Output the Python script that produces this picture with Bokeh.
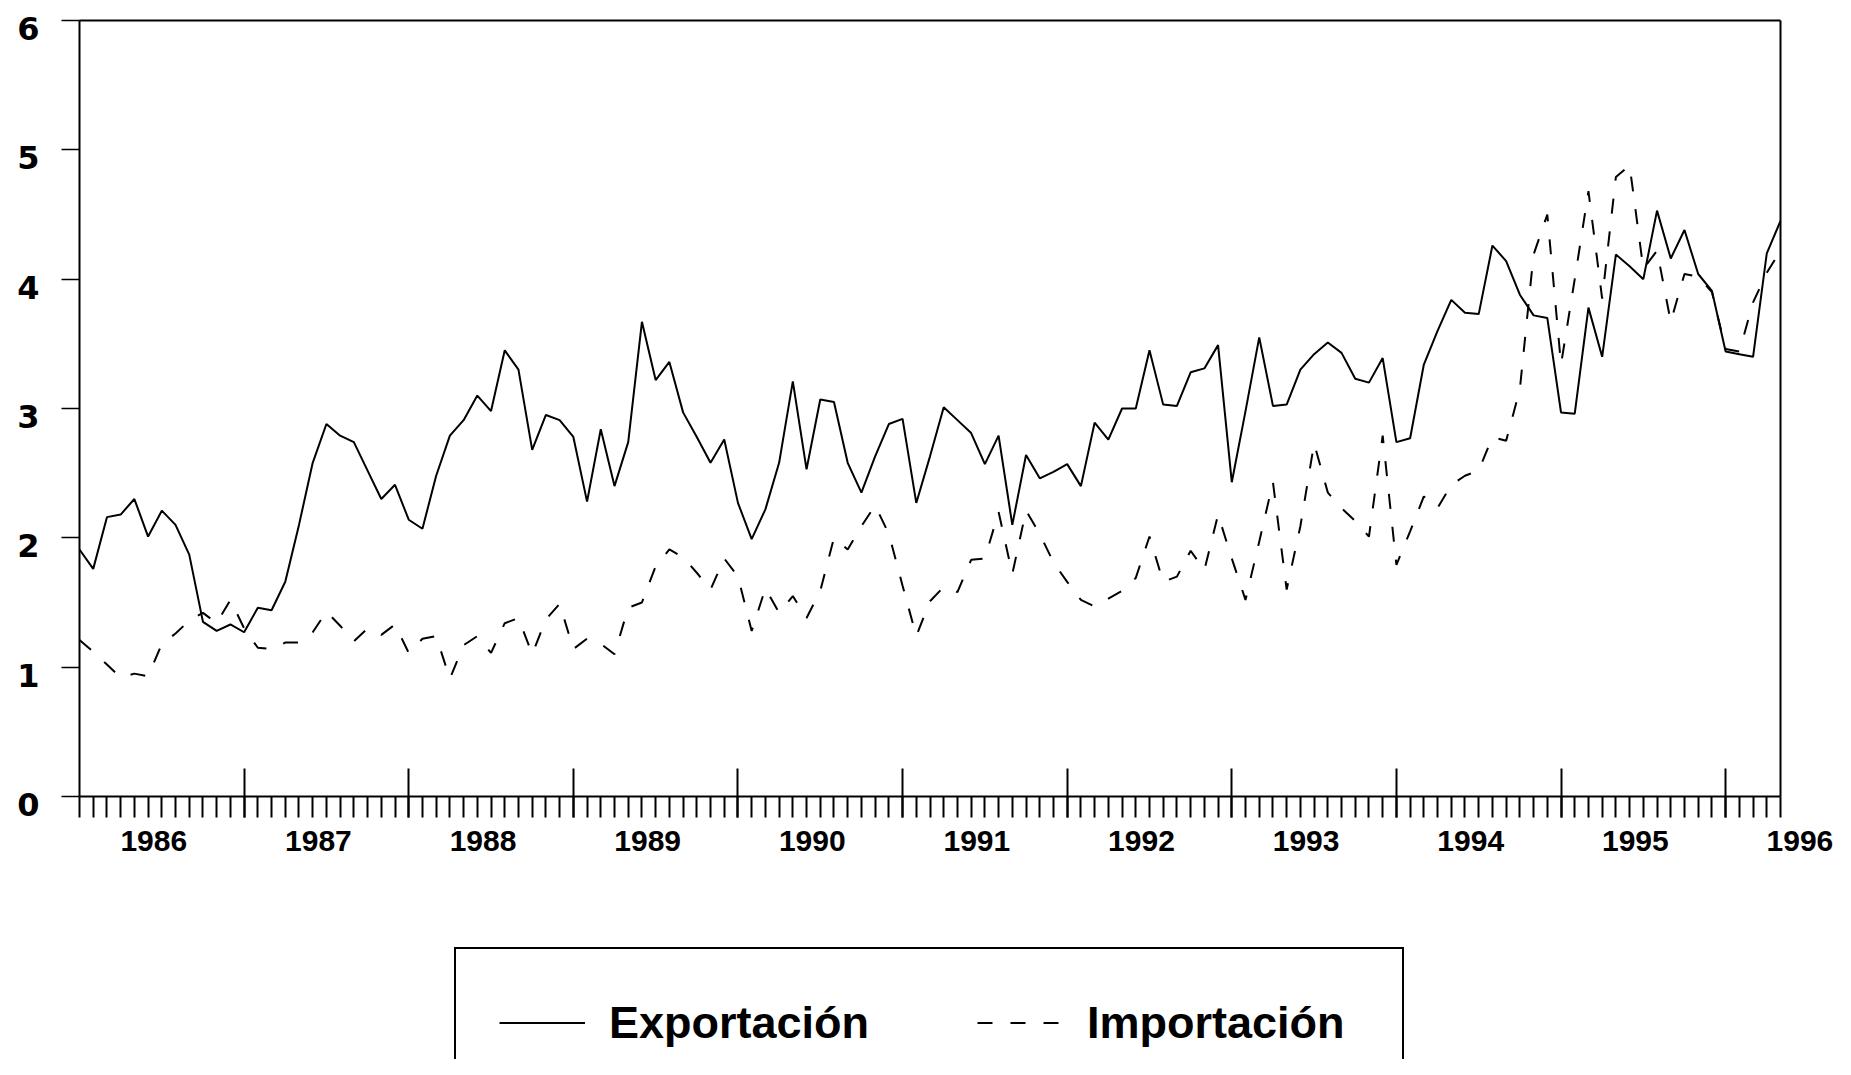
from bokeh.plotting import figure
from bokeh.models import (Range1d, FixedTicker, LabelSet, ColumnDataSource, Legend,
                          LegendItem, LinearAxis)
from bokeh.embed import file_html
from bokeh.resources import INLINE
from bokeh.core.properties import value

# ---------------- data (monthly, Jan 1986 .. May 1996) ----------------
start_year = 1986
years = [1986, 1987, 1988, 1989, 1990, 1991, 1992, 1993, 1994, 1995, 1996]
y_ticks = [0, 1, 2, 3, 4, 5, 6]

exportacion = [
    1.91, 1.76, 2.16, 2.18, 2.30, 2.01, 2.21, 2.10, 1.87, 1.35, 1.28, 1.33,   # 1986
    1.27, 1.46, 1.44, 1.66, 2.10, 2.58, 2.88, 2.79, 2.74, 2.52, 2.30, 2.41,   # 1987
    2.14, 2.07, 2.48, 2.79, 2.91, 3.10, 2.98, 3.45, 3.30, 2.68, 2.95, 2.91,   # 1988
    2.78, 2.28, 2.84, 2.40, 2.74, 3.67, 3.22, 3.36, 2.97, 2.78, 2.58, 2.76,   # 1989
    2.27, 1.99, 2.22, 2.58, 3.21, 2.53, 3.07, 3.05, 2.58, 2.35, 2.63, 2.88,   # 1990
    2.92, 2.27, 2.63, 3.01, 2.91, 2.81, 2.57, 2.79, 2.10, 2.64, 2.46, 2.51,   # 1991
    2.57, 2.40, 2.89, 2.76, 3.00, 3.00, 3.45, 3.03, 3.02, 3.28, 3.31, 3.49,   # 1992
    2.43, 2.98, 3.55, 3.02, 3.03, 3.30, 3.42, 3.51, 3.43, 3.23, 3.20, 3.39,   # 1993
    2.74, 2.77, 3.34, 3.60, 3.84, 3.74, 3.73, 4.26, 4.14, 3.88, 3.72, 3.70,   # 1994
    2.97, 2.96, 3.78, 3.40, 4.19, 4.10, 4.00, 4.53, 4.16, 4.38, 4.04, 3.91,   # 1995
    3.44, 3.42, 3.40, 4.20, 4.45,                                             # 1996
]

importacion = [
    1.21, 1.12, 1.02, 0.92, 0.95, 0.93, 1.18, 1.26, 1.36, 1.42, 1.34, 1.52,   # 1986
    1.30, 1.15, 1.14, 1.19, 1.19, 1.27, 1.43, 1.32, 1.20, 1.30, 1.25, 1.33,   # 1987
    1.11, 1.22, 1.24, 0.91, 1.17, 1.24, 1.11, 1.34, 1.38, 1.10, 1.37, 1.49,   # 1988
    1.14, 1.22, 1.18, 1.10, 1.46, 1.50, 1.78, 1.91, 1.85, 1.73, 1.60, 1.84,   # 1989
    1.70, 1.28, 1.61, 1.42, 1.55, 1.38, 1.59, 2.00, 1.91, 2.09, 2.25, 2.03,   # 1990
    1.63, 1.24, 1.51, 1.62, 1.58, 1.83, 1.84, 2.20, 1.72, 2.21, 2.03, 1.81,   # 1991
    1.66, 1.52, 1.47, 1.53, 1.59, 1.69, 2.01, 1.66, 1.70, 1.90, 1.75, 2.18,   # 1992
    1.84, 1.52, 1.97, 2.43, 1.60, 2.09, 2.73, 2.35, 2.23, 2.13, 2.01, 2.79,   # 1993
    1.79, 2.05, 2.32, 2.23, 2.41, 2.48, 2.52, 2.78, 2.75, 3.15, 4.19, 4.50,   # 1994
    3.34, 4.00, 4.68, 3.85, 4.79, 4.88, 4.08, 4.22, 3.67, 4.04, 4.02, 3.90,   # 1995
    3.46, 3.44, 3.82, 4.05, 4.22,                                             # 1996
]

n = len(exportacion)
months = [start_year + i / 12 for i in range(n)]

# ---------------- layout (pixels inside the canvas) ----------------
W, H = 1835, 1059
box_left, box_right = 79, 1780
box_top, box_bottom = 20, 796

kx = (box_right - box_left) / (months[-1] - months[0])
ky = (box_bottom - box_top) / (y_ticks[-1] - y_ticks[0])
x_start = months[0] - box_left / kx
x_end = months[0] + (W - box_left) / kx
y_end = y_ticks[-1] + box_top / ky
y_start = y_ticks[0] - (H - box_bottom) / ky

p = figure(width=W, height=H, output_backend="svg", toolbar_location=None,
           x_axis_location=None, y_axis_location=None,
           x_range=Range1d(x_start, x_end), y_range=Range1d(y_start, y_end),
           min_border_left=0, min_border_right=0, min_border_top=0, min_border_bottom=0,
           background_fill_color="white", border_fill_color="white")
p.grid.visible = False
p.outline_line_color = None

r_exp = p.line(months, exportacion, line_color="black", line_width=2)
r_imp = p.line(months, importacion, line_color="black", line_width=2, line_dash="15 18")

# bottom axis at y = 0: year boundaries (up + down) and months (down)
xa = LinearAxis(fixed_location=y_ticks[0], bounds=(months[0], months[-1]),
                ticker=FixedTicker(ticks=years[1:], minor_ticks=months),
                axis_line_color="black", axis_line_width=2,
                major_tick_in=28, major_tick_out=21, major_tick_line_width=2,
                minor_tick_in=0, minor_tick_out=21, minor_tick_line_width=2,
                major_label_overrides={y: "" for y in years[1:]},
                major_label_standoff=0)
p.add_layout(xa, "below")

# left axis at the first month
ya = LinearAxis(fixed_location=months[0], bounds=(y_ticks[0], y_ticks[-1]),
                ticker=FixedTicker(ticks=y_ticks, minor_ticks=[]),
                axis_line_color="black", axis_line_width=2,
                major_tick_in=0, major_tick_out=18, major_tick_line_width=1.5,
                minor_tick_out=0,
                major_label_overrides={t: "" for t in y_ticks},
                major_label_standoff=0)
p.add_layout(ya, "left")

# top and right edges of the box
top_ax = LinearAxis(fixed_location=y_ticks[-1], bounds=(months[0], months[-1]),
                    ticker=FixedTicker(ticks=[], minor_ticks=[]),
                    axis_line_color="black", axis_line_width=2,
                    major_tick_out=0, minor_tick_out=0, major_label_standoff=0)
p.add_layout(top_ax, "above")
right_ax = LinearAxis(fixed_location=months[-1], bounds=(y_ticks[0], y_ticks[-1]),
                      ticker=FixedTicker(ticks=[], minor_ticks=[]),
                      axis_line_color="black", axis_line_width=2,
                      major_tick_out=0, minor_tick_out=0, major_label_standoff=0)
p.add_layout(right_ax, "right")

# y tick labels
ylab_src = ColumnDataSource(dict(y=y_ticks, text=[str(t) for t in y_ticks]))
p.add_layout(LabelSet(x=months[0], y="y", text="text", source=ylab_src,
                      x_offset=-40, y_offset=-8,
                      text_align="right", text_baseline="middle",
                      text_font=value("DejaVu Sans"), text_font_style="bold",
                      text_font_size="32px", text_color="black"))

# year labels centred in each year
xlab_src = ColumnDataSource(dict(x=[y + 0.5 for y in years], text=[str(y) for y in years]))
p.add_layout(LabelSet(x="x", y=y_ticks[0], text="text", source=xlab_src,
                      x_offset=-8, y_offset=-44,
                      text_align="center", text_baseline="middle",
                      text_font=value("Liberation Sans"), text_font_style="bold",
                      text_font_size="30px", text_color="black"))

legend = Legend(items=[LegendItem(label="Exportación", renderers=[r_exp]),
                       LegendItem(label="Importación", renderers=[r_imp])],
                orientation="horizontal", location=(454, -39),
                label_text_font="Liberation Sans", label_text_font_style="bold",
                label_text_font_size="45px", label_text_color="black",
                glyph_width=86, glyph_height=61, label_height=61, label_width=272,
                label_standoff=24, spacing=96, padding=43, margin=0,
                border_line_color="black", border_line_width=2, border_line_alpha=1.0,
                background_fill_color="white", background_fill_alpha=1.0)
p.add_layout(legend)

open("out.html", "w").write(file_html(p, INLINE))
